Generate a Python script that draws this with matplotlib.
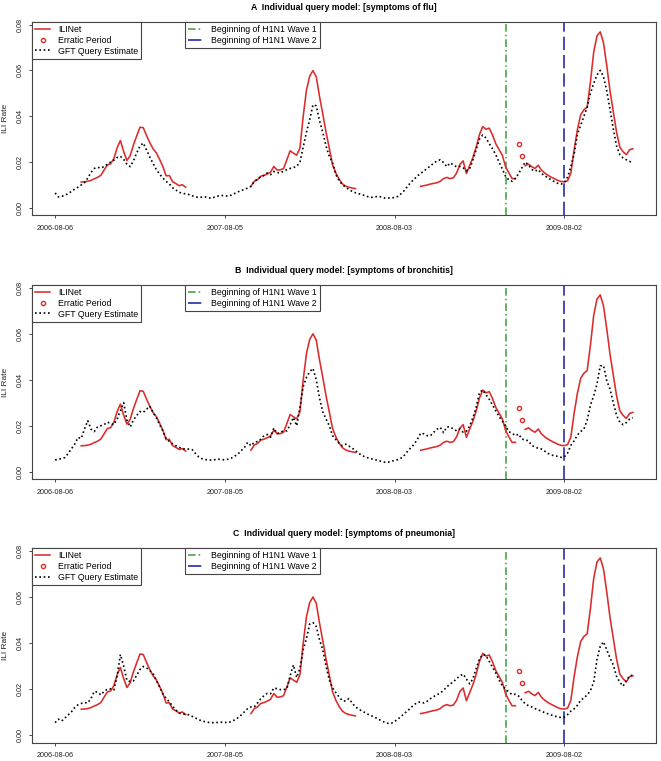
import numpy as np
import pandas as pd
import matplotlib
matplotlib.use('Agg')
import matplotlib.pyplot as plt
import matplotlib.dates as mdates
from matplotlib.lines import Line2D

plt.rcParams['font.family'] = ['Liberation Sans', 'DejaVu Sans']

# weekly series, first week 2006-08-06
first_week = '2006-08-06'
n_weeks = 178

# ILINet seasons (start date, values)
ili_s1_start = '2006-10-01'
ili_s1 = [0.0113, 0.0114, 0.0116, 0.0120, 0.0127, 0.0133, 0.0142, 0.0165, 0.0188, 0.0192,
          0.0215, 0.0262, 0.0294, 0.0246, 0.0207, 0.0228, 0.0275, 0.0314, 0.0352, 0.0350,
          0.0316, 0.0285, 0.0258, 0.0240, 0.0212, 0.0181, 0.0140, 0.0141, 0.0114, 0.0106,
          0.0097, 0.0101, 0.0090]
ili_s2_start = '2007-09-30'
ili_s2 = [0.0094, 0.0116, 0.0123, 0.0138, 0.0142, 0.0148, 0.0156, 0.0181, 0.0165, 0.0166,
          0.0172, 0.0210, 0.0249, 0.0239, 0.0230, 0.0261, 0.0399, 0.0514, 0.0575, 0.0599,
          0.0572, 0.0486, 0.0410, 0.0330, 0.0260, 0.0188, 0.0152, 0.0125, 0.0105, 0.0095,
          0.0090, 0.0087, 0.0084]
ili_s3_start = '2008-09-28'
ili_s3 = [0.0094, 0.0097, 0.0100, 0.0104, 0.0107, 0.0110, 0.0116, 0.0128, 0.0133, 0.0128,
          0.0131, 0.0152, 0.0190, 0.0205, 0.0150, 0.0185, 0.0220, 0.0265, 0.0320, 0.0355,
          0.0343, 0.0348, 0.0318, 0.0280, 0.0255, 0.0230, 0.0180, 0.0152, 0.0128, 0.0128]
ili_s4_start = '2009-05-10'
ili_s4 = [0.0184, 0.0191, 0.0180, 0.0172, 0.0186, 0.0165, 0.0152, 0.0142, 0.0134, 0.0127,
          0.0120, 0.0115, 0.0114, 0.0118, 0.0152, 0.0254, 0.0341, 0.0406, 0.0428, 0.0440,
          0.0550, 0.0680, 0.0750, 0.0768, 0.0720, 0.0620, 0.0510, 0.0420, 0.0330, 0.0265,
          0.0245, 0.0232, 0.0254, 0.0258]
erratic_start = '2009-04-26'
erratic = [0.0277, 0.0226]

wave1 = '2009-03-29'
wave2 = '2009-08-02'

tick_dates = ['2006-08-06', '2007-08-05', '2008-08-03', '2009-08-02']

gft_flu = [0.0065, 0.0048, 0.0050, 0.0056, 0.0062, 0.0072, 0.0082, 0.0090, 0.0100, 0.0110,
           0.0130, 0.0155, 0.0172, 0.0177, 0.0174, 0.0180, 0.0190, 0.0200, 0.0208, 0.0220,
           0.0225, 0.0212, 0.0190, 0.0180, 0.0205, 0.0240, 0.0270, 0.0283, 0.0252, 0.0222,
           0.0195, 0.0167, 0.0148, 0.0130, 0.0116, 0.0104, 0.0088, 0.0078, 0.0068, 0.0064,
           0.0061, 0.0058, 0.0053, 0.0048, 0.0046, 0.0047, 0.0048, 0.0044, 0.0042, 0.0048,
           0.0052, 0.0054, 0.0053, 0.0051, 0.0056, 0.0063, 0.0070, 0.0076, 0.0080, 0.0087,
           0.0094, 0.0115, 0.0126, 0.0135, 0.0142, 0.0152, 0.0145, 0.0159, 0.0154, 0.0153,
           0.0160, 0.0167, 0.0172, 0.0176, 0.0181, 0.0200, 0.0265, 0.0330, 0.0385, 0.0450,
           0.0445, 0.0380, 0.0330, 0.0270, 0.0225, 0.0196, 0.0145, 0.0120, 0.0101, 0.0090,
           0.0080, 0.0072, 0.0066, 0.0062, 0.0058, 0.0053, 0.0048, 0.0046, 0.0048, 0.0051,
           0.0047, 0.0043, 0.0043, 0.0043, 0.0046, 0.0050, 0.0062, 0.0076, 0.0095, 0.0112,
           0.0125, 0.0140, 0.0150, 0.0162, 0.0172, 0.0184, 0.0195, 0.0205, 0.0210, 0.0198,
           0.0180, 0.0196, 0.0188, 0.0179, 0.0181, 0.0175, 0.0162, 0.0170, 0.0210, 0.0255,
           0.0300, 0.0318, 0.0305, 0.0280, 0.0258, 0.0232, 0.0200, 0.0170, 0.0138, 0.0122,
           0.0116, 0.0128, 0.0150, 0.0175, 0.0200, 0.0188, 0.0168, 0.0160, 0.0167, 0.0150,
           0.0140, 0.0131, 0.0122, 0.0114, 0.0107, 0.0104, 0.0110, 0.0135, 0.0180, 0.0235,
           0.0320, 0.0360, 0.0400, 0.0440, 0.0500, 0.0543, 0.0580, 0.0600, 0.0572, 0.0510,
           0.0430, 0.0345, 0.0270, 0.0232, 0.0218, 0.0210, 0.0203, 0.0196]

gft_bronchitis = [0.0052, 0.0054, 0.0058, 0.0062, 0.0080, 0.0100, 0.0120, 0.0149, 0.0145, 0.0186,
                  0.0222, 0.0185, 0.0175, 0.0195, 0.0200, 0.0205, 0.0216, 0.0210, 0.0205, 0.0230,
                  0.0265, 0.0300, 0.0225, 0.0195, 0.0225, 0.0245, 0.0262, 0.0258, 0.0272, 0.0285,
                  0.0258, 0.0235, 0.0205, 0.0178, 0.0145, 0.0132, 0.0122, 0.0113, 0.0106, 0.0101,
                  0.0098, 0.0099, 0.0096, 0.0080, 0.0065, 0.0057, 0.0053, 0.0052, 0.0051, 0.0053,
                  0.0055, 0.0053, 0.0052, 0.0055, 0.0060, 0.0068, 0.0077, 0.0092, 0.0106, 0.0128,
                  0.0113, 0.0128, 0.0132, 0.0142, 0.0157, 0.0162, 0.0150, 0.0190, 0.0166, 0.0172,
                  0.0178, 0.0178, 0.0205, 0.0236, 0.0200, 0.0280, 0.0370, 0.0410, 0.0435, 0.0449,
                  0.0400, 0.0320, 0.0260, 0.0229, 0.0200, 0.0157, 0.0140, 0.0125, 0.0113, 0.0120,
                  0.0112, 0.0103, 0.0092, 0.0080, 0.0072, 0.0064, 0.0060, 0.0056, 0.0053, 0.0049,
                  0.0045, 0.0042, 0.0042, 0.0046, 0.0050, 0.0053, 0.0060, 0.0072, 0.0090, 0.0105,
                  0.0120, 0.0142, 0.0168, 0.0165, 0.0157, 0.0157, 0.0172, 0.0185, 0.0193, 0.0170,
                  0.0195, 0.0195, 0.0186, 0.0178, 0.0186, 0.0172, 0.0176, 0.0200, 0.0235, 0.0280,
                  0.0345, 0.0355, 0.0335, 0.0315, 0.0290, 0.0265, 0.0240, 0.0220, 0.0200, 0.0174,
                  0.0168, 0.0157, 0.0164, 0.0142, 0.0139, 0.0135, 0.0115, 0.0108, 0.0102, 0.0099,
                  0.0090, 0.0080, 0.0073, 0.0070, 0.0067, 0.0063, 0.0065, 0.0082, 0.0115, 0.0135,
                  0.0160, 0.0175, 0.0186, 0.0225, 0.0290, 0.0330, 0.0381, 0.0460, 0.0461, 0.0395,
                  0.0359, 0.0300, 0.0245, 0.0215, 0.0205, 0.0214, 0.0229, 0.0235]

gft_pneumonia = [0.0055, 0.0070, 0.0062, 0.0075, 0.0088, 0.0102, 0.0120, 0.0132, 0.0138, 0.0142,
                 0.0140, 0.0160, 0.0190, 0.0187, 0.0175, 0.0190, 0.0200, 0.0201, 0.0196, 0.0258,
                 0.0350, 0.0300, 0.0238, 0.0233, 0.0236, 0.0260, 0.0285, 0.0298, 0.0292, 0.0280,
                 0.0268, 0.0238, 0.0210, 0.0180, 0.0160, 0.0145, 0.0125, 0.0110, 0.0096, 0.0093,
                 0.0091, 0.0089, 0.0082, 0.0075, 0.0068, 0.0062, 0.0059, 0.0056, 0.0055, 0.0055,
                 0.0056, 0.0057, 0.0056, 0.0055, 0.0060, 0.0067, 0.0076, 0.0088, 0.0102, 0.0116,
                 0.0123, 0.0123, 0.0140, 0.0158, 0.0172, 0.0182, 0.0180, 0.0205, 0.0202, 0.0198,
                 0.0198, 0.0201, 0.0258, 0.0305, 0.0250, 0.0290, 0.0370, 0.0420, 0.0482, 0.0488,
                 0.0471, 0.0414, 0.0370, 0.0300, 0.0240, 0.0205, 0.0185, 0.0166, 0.0150, 0.0148,
                 0.0159, 0.0140, 0.0123, 0.0114, 0.0105, 0.0098, 0.0090, 0.0084, 0.0078, 0.0070,
                 0.0063, 0.0056, 0.0052, 0.0052, 0.0060, 0.0070, 0.0082, 0.0095, 0.0106, 0.0120,
                 0.0133, 0.0142, 0.0145, 0.0140, 0.0148, 0.0159, 0.0168, 0.0176, 0.0183, 0.0195,
                 0.0210, 0.0222, 0.0232, 0.0245, 0.0258, 0.0265, 0.0244, 0.0223, 0.0245, 0.0290,
                 0.0330, 0.0350, 0.0345, 0.0320, 0.0295, 0.0270, 0.0240, 0.0215, 0.0201, 0.0187,
                 0.0176, 0.0178, 0.0170, 0.0152, 0.0137, 0.0128, 0.0123, 0.0116, 0.0110, 0.0105,
                 0.0098, 0.0093, 0.0088, 0.0083, 0.0080, 0.0077, 0.0079, 0.0090, 0.0105, 0.0115,
                 0.0130, 0.0152, 0.0162, 0.0175, 0.0194, 0.0230, 0.0329, 0.0386, 0.0405, 0.0370,
                 0.0335, 0.0305, 0.0255, 0.0230, 0.0213, 0.0237, 0.0258, 0.0260]

panels = [('A', 'symptoms of flu', gft_flu),
          ('B', 'symptoms of bronchitis', gft_bronchitis),
          ('C', 'symptoms of pneumonia', gft_pneumonia)]

RED = '#dc2b2b'
GREEN = '#3a9d3a'
BLUE = '#2a2aa8'
EDGE = '#444444'


def weeks(start, n):
    return pd.date_range(start, periods=n, freq='7D')


def draw_panel(ax, letter, query, gft):
    dates = weeks(first_week, n_weeks)
    for start, vals in [(ili_s1_start, ili_s1), (ili_s2_start, ili_s2),
                        (ili_s3_start, ili_s3), (ili_s4_start, ili_s4)]:
        ax.plot(weeks(start, len(vals)), vals, color=RED, lw=1.15,
                solid_joinstyle='round', zorder=3)
    ax.plot(weeks(erratic_start, len(erratic)), erratic, 'o', mfc='none', mec=RED,
            ms=3.0, mew=1.0, zorder=3)
    ax.plot(dates, gft, color='black', lw=1.2, linestyle=(0, (1, 1.6)), zorder=4)
    ax.axvline(pd.Timestamp(wave1), color=GREEN, lw=1.1, linestyle=(0, (5, 2, 1, 2)))
    ax.axvline(pd.Timestamp(wave2), color=BLUE, lw=1.2, linestyle=(0, (8, 3)))

    t0 = pd.Timestamp(first_week)
    ax.set_xlim(t0 - pd.Timedelta(days=7 * 7.08), t0 + pd.Timedelta(days=7 * 184.08))
    ax.set_ylim(-0.0031, 0.0811)
    ax.set_xticks([pd.Timestamp(d) for d in tick_dates])
    ax.xaxis.set_major_formatter(mdates.DateFormatter('%Y-%m-%d'))
    ax.set_yticks([0.0, 0.02, 0.04, 0.06, 0.08])
    ax.set_yticklabels(['0.00', '0.02', '0.04', '0.06', '0.08'], rotation=90, va='center')
    ax.tick_params(axis='both', labelsize=5.2, length=2.4, width=0.7, colors=EDGE,
                   labelcolor='#222222')
    ax.tick_params(axis='x', pad=4.5)
    ax.tick_params(axis='y', pad=3.5)
    for s in ax.spines.values():
        s.set_color(EDGE)
        s.set_linewidth(0.8)

    ax.text(-26 / 624, 0.5, 'ILI Rate', transform=ax.transAxes, rotation=90,
            ha='center', va='center', fontsize=6.0, color='#222222')
    ax.text(0.5, 1.077, f'{letter}  Individual query model: [{query}]', transform=ax.transAxes,
            ha='center', va='center', fontsize=6.3, fontweight='bold')

    h1 = [Line2D([], [], color=RED, lw=1.15),
          Line2D([], [], color=RED, ls='none', marker='o', mfc='none', mec=RED, ms=3.0, mew=1.0),
          Line2D([], [], color='black', lw=1.2, linestyle=(0, (1, 1.6)))]
    leg1 = ax.legend(h1, ['ILINet', 'Erratic Period', 'GFT Query Estimate'],
                     loc='upper left', bbox_to_anchor=(0, 1), borderaxespad=0,
                     fontsize=6.3, handlelength=1.75, handletextpad=0.9, borderpad=0.35,
                     labelspacing=0.2, fancybox=False, framealpha=1)
    leg1.get_frame().set_edgecolor(EDGE)
    leg1.get_frame().set_linewidth(0.8)
    ax.add_artist(leg1)

    h2 = [Line2D([], [], color=GREEN, lw=1.1, linestyle=(0, (5, 2, 1, 2))),
          Line2D([], [], color=BLUE, lw=1.2, linestyle=(0, (8, 3)))]
    leg2 = ax.legend(h2, ['Beginning of H1N1 Wave 1', 'Beginning of H1N1 Wave 2'],
                     loc='upper left', bbox_to_anchor=(153 / 624, 1), borderaxespad=0,
                     fontsize=6.3, handlelength=1.75, handletextpad=0.9, borderpad=0.35,
                     labelspacing=0.2, fancybox=False, framealpha=1)
    leg2.get_frame().set_edgecolor(EDGE)
    leg2.get_frame().set_linewidth(0.8)


W, H = 661, 761
fig = plt.figure(figsize=(W / 100, H / 100), dpi=100)
boxes = [(22, 215), (285, 479), (548, 742.5)]
for (top, bottom), (letter, query, gft) in zip(boxes, panels):
    ax = fig.add_axes([32 / W, (H - bottom) / H, 624 / W, (bottom - top) / H])
    draw_panel(ax, letter, query, gft)

fig.savefig('out.png', dpi=100)
